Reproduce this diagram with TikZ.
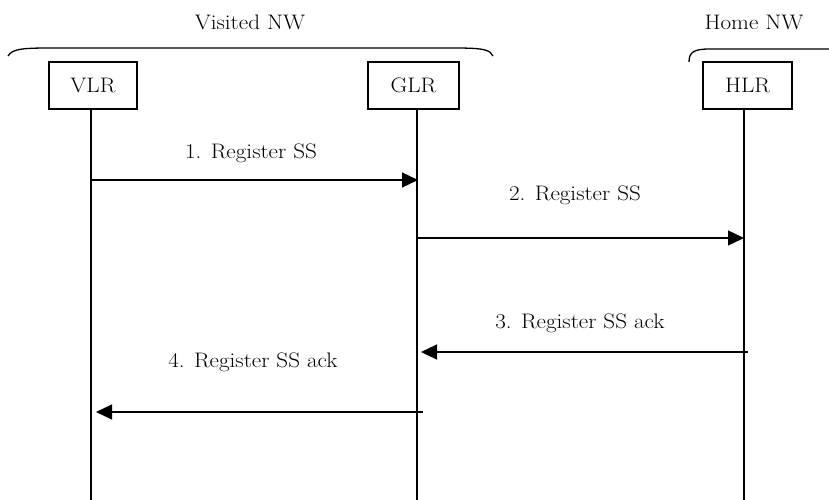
\documentclass[tikz,border=0pt]{standalone}
\usepackage{fontspec}
\setmainfont{Latin Modern Roman}[FakeStretch=1.1]
\usetikzlibrary{arrows.meta}
\begin{document}
\begin{tikzpicture}[x=1pt,y=-1pt,
  every node/.style={font=\fontsize{21}{25}\selectfont},
  entity/.style={draw,line width=1.2pt,minimum height=47pt,inner sep=0pt},
  life/.style={line width=1.2pt},
  msg/.style={line width=1.2pt,-{Triangle[length=16pt,width=15pt]}},
  brace/.style={line width=1.3pt},
  lbl/.style={inner sep=0pt}]
\useasboundingbox (0,0) rectangle (829,500);
% entities
\node[entity,minimum width=88pt] (vlr) at (93,85.5) {VLR};
\node[entity,minimum width=91pt] (glr) at (413.5,85.5) {GLR};
\node[entity,minimum width=89pt] (hlr) at (747.5,85.5) {HLR};
% lifelines
\coordinate (vlrend) at (91,500);
\coordinate (glrend) at (417,500);
\coordinate (hlrend) at (744,500);
\draw[life] (vlr.south -| vlrend) -- (vlrend);
\draw[life] (glr.south -| glrend) -- (glrend);
\draw[life] (hlr.south -| hlrend) -- (hlrend);
% braces
\draw[brace] (8,56) .. controls (12,49) and (22,48) .. (50,48) -- (455,48) .. controls (485,48) and (490,50) .. (493,56);
\draw[brace] (689,62) .. controls (689,52) and (694,49) .. (710,49) -- (829,49);
\node[lbl] (visited) at (250,22) {Visited NW};
\node[lbl] (home) at (754,22) {Home NW};
% messages
\draw[msg] (vlrend |- 0,180) -- ([xshift=1pt]glrend |- 0,180);
\node[lbl] (m1) at (251,153) {1. Register SS};
\draw[msg] (glrend |- 0,238) -- (hlrend |- 0,238);
\node[lbl] (m2) at (575,195) {2. Register SS};
\draw[msg] ([xshift=4pt]hlrend |- 0,352) -- ([xshift=4pt]glrend |- 0,352);
\node[lbl] (m3) at (580,323) {3. Register SS ack};
\draw[msg] ([xshift=6pt]glrend |- 0,412) -- ([xshift=5pt]vlrend |- 0,412);
\node[lbl] (m4) at (253,362) {4. Register SS ack};
\end{tikzpicture}
\end{document}
